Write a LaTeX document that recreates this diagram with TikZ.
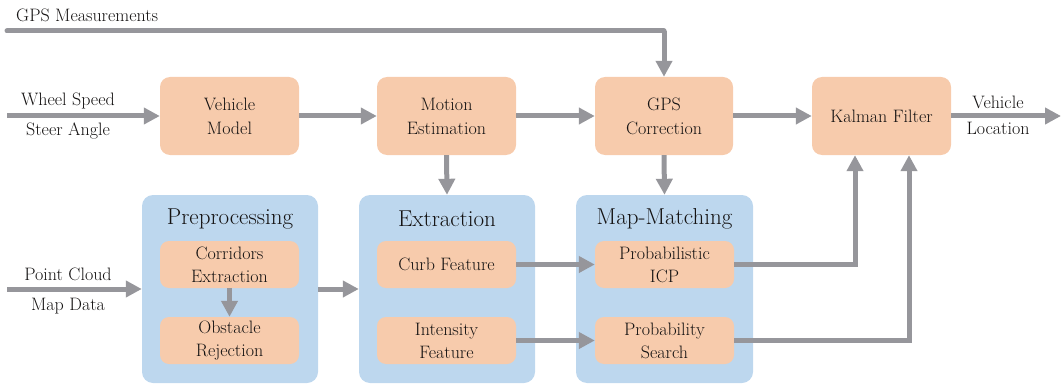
\documentclass[tikz,border=0pt]{standalone}
\usetikzlibrary{arrows.meta}
\definecolor{boxor}{RGB}{247,203,172}
\definecolor{boxbl}{RGB}{189,215,238}
\definecolor{arrg}{RGB}{150,150,155}
\definecolor{txt}{RGB}{20,18,18}
\begin{document}
\begin{tikzpicture}[x=1pt,y=-1pt,
  every node/.style={text=txt},
  topbox/.style={fill=boxor,rounded corners=10pt,minimum width=139pt,minimum height=78pt,inner sep=0pt,align=center,font=\fontsize{18}{24}\selectfont},
  innerbox/.style={fill=boxor,rounded corners=9pt,minimum width=139pt,minimum height=47pt,inner sep=0pt,align=center,font=\fontsize{18}{23}\selectfont},
  groupbox/.style={fill=boxbl,rounded corners=11pt,minimum width=176pt,minimum height=188pt,inner sep=0pt},
  grouptitle/.style={font=\fontsize{23}{27}\selectfont,inner sep=0pt},
  lbl/.style={font=\fontsize{18}{23}\selectfont,inner sep=0pt},
  arr/.style={draw=arrg,line width=5pt,-{Triangle[length=16pt,width=16pt]}},
  ln/.style={draw=arrg,line width=5pt,line cap=round}]
\useasboundingbox (0,0) rectangle (1062,385);
% groups
\node[groupbox] (pre) at (230,289) {};
\node[groupbox] (ext) at (447,289) {};
\node[groupbox,minimum width=177pt] (mm) at (664.5,289) {};
\node[grouptitle] (pret) at (230,219) {Preprocessing};
\node[grouptitle] (extt) at (447,219) {Extraction};
\node[grouptitle] (mmt) at (664.5,219) {Map-Matching};
% top boxes
\node[topbox] (vm) at (229.5,116) {Vehicle\\Model};
\node[topbox] (me) at (446.5,116) {Motion\\Estimation};
\node[topbox,minimum width=138pt] (gps) at (664,116) {GPS\\Correction};
\node[topbox] (kf) at (881.5,116) {Kalman Filter};
% inner boxes
\node[innerbox] (ce) at (229.5,264.5) {Corridors\\Extraction};
\node[innerbox] (orj) at (229.5,340.5) {Obstacle\\Rejection};
\node[innerbox] (cf) at (446.5,264.5) {Curb Feature};
\node[innerbox] (inf) at (446.5,340.5) {Intensity\\Feature};
\node[innerbox] (picp) at (664.5,264.5) {Probabilistic\\ICP};
\node[innerbox] (ps) at (664.5,340.5) {Probability\\Search};
% free ends
\coordinate (gpsin) at (7,31);
\coordinate (wsin) at (7,116);
\coordinate (pcin) at (7,289);
\coordinate (outend) at (1061,116);
% labels
\node[lbl,anchor=west] (gpsl) at (16,15) {GPS Measurements};
\node[lbl] (wsl) at (68,101) {Wheel Speed};
\node[lbl] (sal) at (68,131) {Steer Angle};
\node[lbl] (pcl) at (68,274) {Point Cloud};
\node[lbl] (mdl) at (68,306) {Map Data};
\node[lbl] (vl1) at (998,102) {Vehicle};
\node[lbl] (vl2) at (998,128) {Location};
% connectors
\draw[ln] (gpsin) -- (gps.north |- gpsin);
\draw[arr] (gps.north |- gpsin) -- (gps.north);
\draw[arr] (wsin) -- (vm.west);
\draw[arr] (vm.east) -- (me.west);
\draw[arr] (me.east) -- (gps.west);
\draw[arr] (gps.east) -- (kf.west);
\draw[arr] (kf.east) -- (outend);
\draw[arr] (me.south) -- (ext.north);
\draw[arr] (gps.south) -- (mm.north);
\draw[arr] (pcin) -- (pre.west);
\draw[arr] (pre.east) -- (ext.west);
\draw[arr] (ce.south) -- (orj.north);
\draw[arr] (cf.east) -- (picp.west);
\draw[arr] (inf.east) -- (ps.west);
\draw[arr] (picp.east) -| ([xshift=-26.5pt]kf.south);
\draw[arr] (ps.east) -| ([xshift=27.5pt]kf.south);
\end{tikzpicture}
\end{document}
